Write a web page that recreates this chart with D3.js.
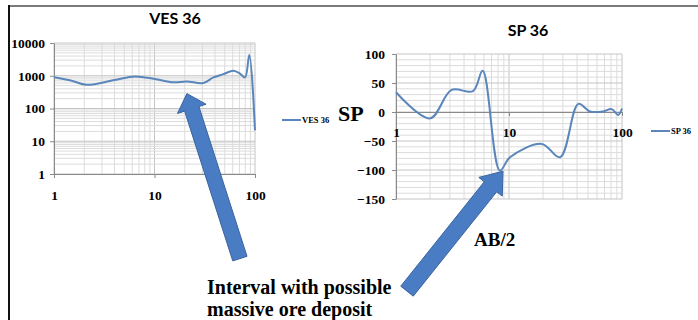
<!DOCTYPE html>
<html>
<head>
<meta charset="utf-8">
<script src="https://cdn.jsdelivr.net/npm/d3@7"></script>
<style>
  body { margin: 0; background: #fff; }
  svg { display: block; }
  .tick text { font-family: "Liberation Serif", "Times New Roman", serif; font-weight: bold; fill: #000; }
</style>
</head>
<body>
<svg id="chart" width="698" height="320"></svg>
<script>
// VES 36: apparent resistivity against AB/2 (log-log)
const vesAB  = [1, 1.5, 2.1, 4, 6.4, 10, 15.4, 20.9, 30.6, 38.6, 48.4, 61, 70.7, 79.6, 87.7, 100];
const vesRho = [900, 706, 530, 740, 950, 800, 630, 670, 600, 890, 1120, 1420, 1170, 890, 4330, 21.5];
const vesYTicks = [1, 10, 100, 1000, 10000];

// SP 36: self potential against AB/2 (log x)
const spAB = [1, 2, 3.1, 4.8, 5.85, 8.3, 10.2, 19.5, 28.3, 41.1, 52, 68, 81, 92.6, 100];
const spMv = [34, -11, 38, 36, 71, -101, -78, -55, -78, 14, 1, 1, 5, -5, 6];
const spYTicks = [100, 50, 0, -50, -100, -150];

const abTicks = [1, 10, 100];

const svg = d3.select("#chart");
const lineColor = "#5a86bb";
const serif = "'Liberation Serif', 'Times New Roman', serif";
const sans = "Lato, 'Open Sans', sans-serif";

// page frame
svg.append("line").attr("x1", 9).attr("x2", 698).attr("y1", 6).attr("y2", 6)
  .attr("stroke", "#7a7a7a").attr("stroke-width", 2);
svg.append("line").attr("x1", 9).attr("x2", 9).attr("y1", 5).attr("y2", 320)
  .attr("stroke", "#111").attr("stroke-width", 2);

// minor values of a log axis between lo and hi
function logMinors(lo, hi) {
  const out = [];
  for (let d = lo; d < hi; d *= 10) for (let k = 1; k < 10; k++) out.push(d * k);
  out.push(hi);
  return out;
}

function styleAxis(g) {
  g.selectAll("path.domain").attr("stroke", "#8a8a8a");
  g.selectAll(".tick line").attr("stroke", "#8a8a8a");
}

// ---------- VES 36 ----------
const xL = d3.scaleLog().domain([1, 100]).range([54, 255]);
const yL = d3.scaleLog().domain([1, 10000]).range([174, 43]);

const gL = svg.append("g");
// vertical grid
gL.selectAll("line.vx").data(logMinors(1, 100)).join("line")
  .attr("x1", d => xL(d)).attr("x2", d => xL(d))
  .attr("y1", yL(10000)).attr("y2", yL(1))
  .attr("stroke", d => abTicks.includes(d) ? "#c4c4c4" : "#dcdcdc").attr("stroke-width", 1);
// horizontal grid
gL.selectAll("line.hy").data(logMinors(1, 10000)).join("line")
  .attr("x1", xL(1)).attr("x2", xL(100))
  .attr("y1", d => yL(d)).attr("y2", d => yL(d))
  .attr("stroke", d => vesYTicks.includes(d) ? "#c4c4c4" : "#dcdcdc").attr("stroke-width", 1);

gL.append("g").attr("transform", `translate(${xL(1)},0)`)
  .call(d3.axisLeft(yL).tickValues(vesYTicks).tickFormat(d3.format("d")).tickSize(4).tickSizeOuter(0).tickPadding(5))
  .call(styleAxis).selectAll("text").attr("font-size", 13.5);
gL.append("g").attr("transform", `translate(0,${yL(1)})`)
  .call(d3.axisBottom(xL).tickValues(abTicks).tickFormat(d3.format("d")).tickSize(4).tickSizeOuter(0).tickPadding(12))
  .call(styleAxis).selectAll("text").attr("font-size", 13.5);

const vesData = vesAB.map((a, i) => [a, vesRho[i]]);
gL.append("path").datum(vesData)
  .attr("fill", "none").attr("stroke", lineColor).attr("stroke-width", 2)
  .attr("d", d3.line().x(d => xL(d[0])).y(d => yL(d[1])).curve(d3.curveCatmullRom.alpha(0.5)));

gL.append("text").attr("x", 175).attr("y", 24).attr("text-anchor", "middle")
  .attr("font-family", sans).attr("font-weight", 700).attr("font-size", 16).text("VES 36");

// legend
gL.append("line").attr("x1", 282).attr("x2", 301).attr("y1", 120).attr("y2", 120)
  .attr("stroke", lineColor).attr("stroke-width", 2);
gL.append("text").attr("x", 302).attr("y", 123).attr("font-family", serif)
  .attr("font-weight", "bold").attr("font-size", 8.5).text("VES 36");

// ---------- SP 36 ----------
const xR = d3.scaleLog().domain([1, 100]).range([396, 622]);
const yR = d3.scaleLinear().domain([-150, 100]).range([199, 54]);

const gR = svg.append("g");
gR.selectAll("line.vx").data(logMinors(1, 100)).join("line")
  .attr("x1", d => xR(d)).attr("x2", d => xR(d))
  .attr("y1", yR(100)).attr("y2", yR(-150))
  .attr("stroke", d => abTicks.includes(d) ? "#c4c4c4" : "#dcdcdc").attr("stroke-width", 1);
gR.selectAll("line.hy").data(d3.range(-150, 101, 10)).join("line")
  .attr("x1", xR(1)).attr("x2", xR(100))
  .attr("y1", d => yR(d)).attr("y2", d => yR(d))
  .attr("stroke", d => d % 50 === 0 ? "#c4c4c4" : "#dcdcdc").attr("stroke-width", 1);

gR.append("g").attr("transform", `translate(${xR(1)},0)`)
  .call(d3.axisLeft(yR).tickValues(spYTicks).tickFormat(d3.format("d")).tickSize(4).tickSizeOuter(0).tickPadding(7))
  .call(styleAxis).selectAll("text").attr("font-size", 13.5);
gR.append("g").attr("transform", `translate(0,${yR(0)})`)
  .call(d3.axisBottom(xR).tickValues(abTicks).tickFormat(d3.format("d")).tickSize(4).tickSizeOuter(0).tickPadding(11))
  .call(styleAxis).selectAll("text").attr("font-size", 13.5);

const spData = spAB.map((a, i) => [a, spMv[i]]);
gR.append("path").datum(spData)
  .attr("fill", "none").attr("stroke", lineColor).attr("stroke-width", 2)
  .attr("d", d3.line().x(d => xR(d[0])).y(d => yR(d[1])).curve(d3.curveCatmullRom.alpha(0.5)));

gR.append("text").attr("x", 528).attr("y", 36).attr("text-anchor", "middle")
  .attr("font-family", sans).attr("font-weight", 700).attr("font-size", 16).text("SP 36");

gR.append("line").attr("x1", 651).attr("x2", 670).attr("y1", 131).attr("y2", 131)
  .attr("stroke", lineColor).attr("stroke-width", 2);
gR.append("text").attr("x", 671).attr("y", 134).attr("font-family", serif)
  .attr("font-weight", "bold").attr("font-size", 8.5).text("SP 36");

// axis titles
svg.append("text").attr("x", 338).attr("y", 121).attr("font-family", serif)
  .attr("font-weight", "bold").attr("font-size", 22).text("SP");
svg.append("text").attr("x", 474).attr("y", 246).attr("font-family", serif)
  .attr("font-weight", "bold").attr("font-size", 19).text("AB/2");

// annotation
const note = svg.append("text").attr("font-family", serif).attr("font-weight", "bold").attr("font-size", 20);
note.append("tspan").attr("x", 207).attr("y", 294).text("Interval with possible");
note.append("tspan").attr("x", 207).attr("y", 316).text("massive ore deposit");

// block arrows pointing at the anomaly on each curve
function blockArrow(tip, tail, shaftHalf, headHalf, headLen) {
  const dx = tip[0] - tail[0], dy = tip[1] - tail[1];
  const len = Math.hypot(dx, dy);
  const ux = dx / len, uy = dy / len, px = -uy, py = ux;
  const bx = tip[0] - ux * headLen, by = tip[1] - uy * headLen;
  const pts = [
    [tail[0] + px * shaftHalf, tail[1] + py * shaftHalf],
    [bx + px * shaftHalf, by + py * shaftHalf],
    [bx + px * headHalf, by + py * headHalf],
    tip,
    [bx - px * headHalf, by - py * headHalf],
    [bx - px * shaftHalf, by - py * shaftHalf],
    [tail[0] - px * shaftHalf, tail[1] - py * shaftHalf]
  ];
  return "M" + pts.map(p => p.join(",")).join("L") + "Z";
}
const arrowTip1 = [xL(21), yL(285)];
const arrowTip2 = [xR(8.85), yR(-102)];
svg.append("path").attr("d", blockArrow(arrowTip1, [arrowTip1[0] + 53, arrowTip1[1] + 165], 7.5, 15, 16))
  .attr("fill", "#4a7cc3").attr("stroke", "#3a649f").attr("stroke-width", 1);
svg.append("path").attr("d", blockArrow(arrowTip2, [arrowTip2[0] - 96, arrowTip2[1] + 120], 8, 15, 20))
  .attr("fill", "#4a7cc3").attr("stroke", "#3a649f").attr("stroke-width", 1);
</script>
</body>
</html>
